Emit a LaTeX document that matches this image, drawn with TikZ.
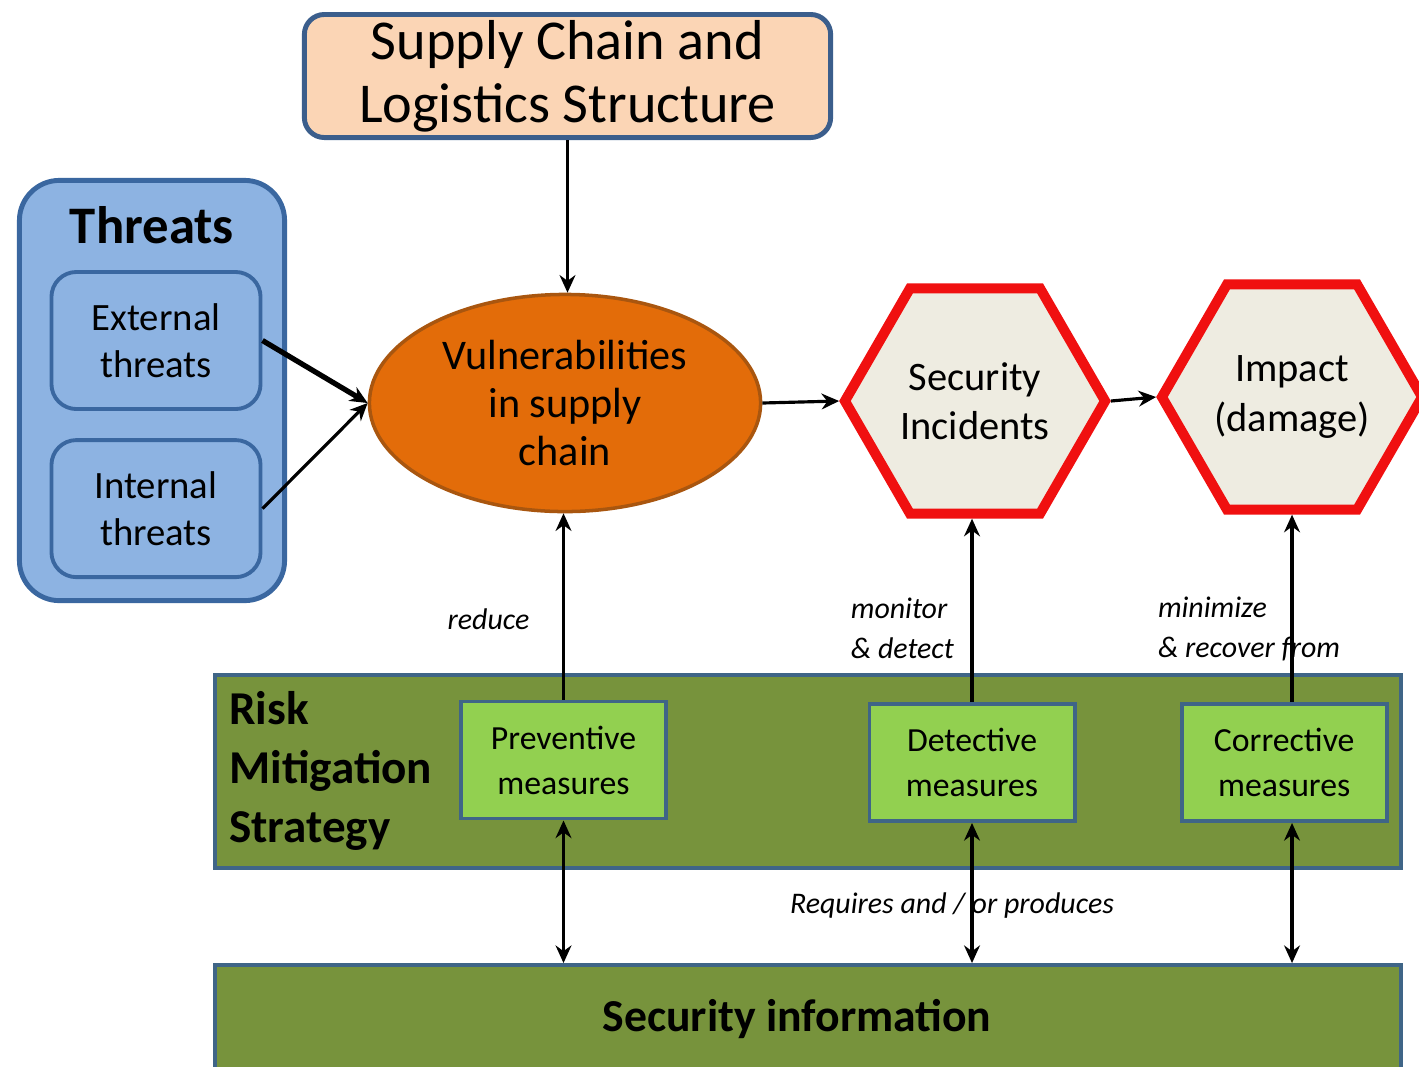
\documentclass[tikz,border=0pt]{standalone}
\usepackage{fontspec}
\setmainfont{Carlito}
\usetikzlibrary{positioning,shapes.geometric,arrows.meta}
\definecolor{peach}{HTML}{FBD5B5}
\definecolor{frameblue}{HTML}{3B5E8C}
\definecolor{threatblue}{HTML}{8DB3E2}
\definecolor{threatline}{HTML}{3A67A0}
\definecolor{vulorange}{HTML}{E36C09}
\definecolor{vulline}{HTML}{A9560F}
\definecolor{hexfill}{HTML}{EEECE1}
\definecolor{hexred}{HTML}{F01010}
\definecolor{olive}{HTML}{77933C}
\definecolor{bandline}{HTML}{3F6587}
\definecolor{measuregreen}{HTML}{92D050}

\begin{document}
\begin{tikzpicture}[x=0.01cm,y=-0.01cm,line width=0.9pt,>={Stealth[length=5pt,width=4.5pt]},
    headbox/.style={draw=frameblue,line width=1.4pt,fill=peach,rounded corners=.2cm,minimum width=5.26cm,minimum height=1.23cm,inner ysep=0pt,align=center,font=\fontsize{16pt}{18pt}\selectfont},
    threatframe/.style={draw=threatline,line width=1.4pt,fill=threatblue,rounded corners=.4cm,minimum width=2.65cm,minimum height=4.2cm},
    threatbox/.style={draw=threatline,line width=1.1pt,fill=threatblue,rounded corners=.25cm,minimum width=2.09cm,minimum height=1.37cm,align=center,font=\fontsize{11pt}{13.4pt}\selectfont},
    vulnode/.style={ellipse,draw=vulline,line width=1pt,fill=vulorange,minimum width=3.91cm,minimum height=2.17cm,inner sep=0pt,align=center,font=\fontsize{12pt}{13.7pt}\selectfont},
    hexnode/.style={regular polygon,regular polygon sides=6,draw=hexred,line width=2.85pt,fill=hexfill,minimum size=2.6cm,inner sep=0pt,align=center,font=\fontsize{11.5pt}{14pt}\selectfont},
    band/.style={draw=bandline,line width=1.1pt,fill=olive,minimum width=11.86cm},
    measure/.style={draw=bandline,line width=1.1pt,fill=measuregreen,minimum width=2.05cm,minimum height=1.17cm,align=center,font=\fontsize{9.6pt}{12.8pt}\selectfont},
    linklabel/.style={inner sep=1pt,align=left,font=\itshape\fontsize{8.5pt}{11.4pt}\selectfont}]
\useasboundingbox (0,0) rectangle (1419,1066);

\node[headbox] (scl) at (567.5,76) {Supply Chain and\\Logistics Structure};
\node[threatframe] (thr) at (152,390.5) {};
\node[font=\bfseries\fontsize{15pt}{18pt}\selectfont] (thrlbl) at (152,225) {Threats};
\node[threatbox] (ext) at (156,340.5) {External\\threats};
\node[threatbox] (int) [on grid,below=1.68cm of ext] {Internal\\threats};
\node[vulnode] (vul) at (565,403) {Vulnerabilities\\in supply\\chain};
\node[hexnode] (sec) at (975,401) {Security\\Incidents};
\node[hexnode] (imp) at (1292,397) {Impact\\(damage)};

\node[band,minimum height=1.93cm] (rms) at (808,771.5) {};
\node[anchor=west,align=left,font=\bfseries\fontsize{13.4pt}{16.8pt}\selectfont] (rmslbl) at (216,771) {Risk\\Mitigation\\Strategy};
\node[measure] (prev) at (563.5,760) {Preventive\\measures};
\node[measure] (det) at (972,762.5) {Detective\\measures};
\node[measure] (cor) [on grid,right=3.12cm of det] {Corrective\\measures};
\node[band,minimum height=1.08cm,font=\bfseries\fontsize{13pt}{16pt}\selectfont] (info) at (808,1019) {\hspace*{-.22cm}Security information};

\path[->]
    (scl.south) edge (scl.south |- vul.north)
    (ext.east) edge[line width=1.5pt] (vul.west)
    (int.east) edge (vul.west)
    (vul.east) edge (sec.west)
    (sec.east) edge (imp.west)
    (prev.north) edge node[linklabel,pos=.43,left=.29cm] {reduce} (prev.north |- vul.south)
    (det.north) edge node[linklabel,pos=.40,left=.13cm] {monitor\\\& detect} (det.north |- sec.south)
    (cor.north -| imp.south) edge node[linklabel,pos=.39,xshift=-.43cm] {minimize\\\& recover from} (imp.south);
\path[<->]
    (prev.south) edge (prev.south |- info.north)
    (det.south) edge node[linklabel,pos=.59,xshift=-.2cm] {Requires and / or produces} (det.south |- info.north)
    (cor.south -| imp.south) edge (info.north -| imp.south);
\end{tikzpicture}
\end{document}
